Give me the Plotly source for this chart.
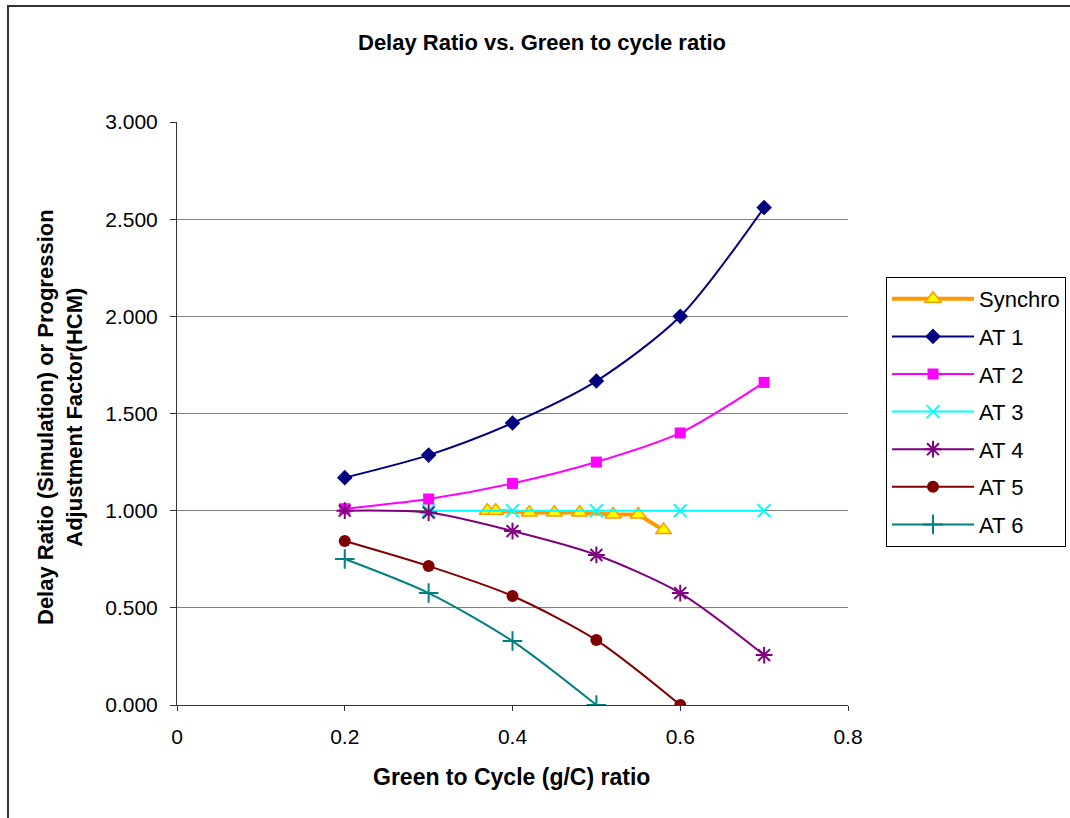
import plotly.graph_objects as go

# ---- data ----
gc = [0.2, 0.3, 0.4, 0.5, 0.6, 0.7]
synchro_x = [0.37, 0.38, 0.42, 0.45, 0.48, 0.52, 0.55, 0.58]
synchro_y = [1.00, 1.00, 0.99, 0.99, 0.99, 0.98, 0.98, 0.90]
at1 = [1.17, 1.286, 1.451, 1.667, 2.00, 2.56]
at2 = [1.01, 1.06, 1.14, 1.25, 1.40, 1.66]
at3_x = [0.3, 0.4, 0.5, 0.6, 0.7]
at3 = [1.0, 1.0, 1.0, 1.0, 1.0]
at4 = [1.0, 0.99, 0.895, 0.772, 0.576, 0.257]
at5_x = [0.2, 0.3, 0.4, 0.5, 0.6]
at5 = [0.844, 0.715, 0.561, 0.334, 0.0]
at6_x = [0.2, 0.3, 0.4, 0.5]
at6 = [0.751, 0.576, 0.329, 0.0]
y_ticks = [0, 0.5, 1.0, 1.5, 2.0, 2.5, 3.0]
x_ticks = [0, 0.2, 0.4, 0.6, 0.8]
x_tick_text = ["0", "0.2", "0.4", "0.6", "0.8"]

FONT = "Arial, Liberation Sans, sans-serif"

fig = go.Figure()

fig.add_trace(go.Scatter(
    x=synchro_x, y=synchro_y, name="Synchro", mode="lines+markers",
    line=dict(color="#FF9900", width=4),
    marker=dict(symbol="triangle-up", size=14, color="#FFFF00",
                line=dict(color="#FF9900", width=1.5)),
    legendgroup="g0"))

series = [
    ("AT 1", gc, at1, "#000080", "diamond", 12, 0),
    ("AT 2", gc, at2, "#FF00FF", "square", 11, 0),
    ("AT 3", at3_x, at3, "#00FFFF", "x-thin-open", 13, 2),
    ("AT 4", gc, at4, "#800080", "asterisk-open", 14, 2),
    ("AT 5", at5_x, at5, "#800000", "circle", 12, 0),
    ("AT 6", at6_x, at6, "#008080", "cross-thin-open", 14, 2),
]
for i, (name, xs, ys, col, sym, sz, lw) in enumerate(series):
    mk = dict(symbol=sym, size=sz, color=col)
    if lw:
        mk["line"] = dict(color=col, width=lw)
    fig.add_trace(go.Scatter(
        x=xs, y=ys, name=name, mode="lines+markers",
        line=dict(color=col, width=2, shape="spline", smoothing=0.8),
        marker=mk, legendgroup=f"g{i+1}"))

W, H = 1070, 818
L, R, T, B = 177, 848, 122, 705
pw, ph = R - L, B - T

def px(x):
    return (x - L) / pw

def py(y):
    return (B - y) / ph

fig.update_layout(
    width=W, height=H,
    margin=dict(l=L, r=W - R, t=T, b=H - B, pad=0, autoexpand=False),
    paper_bgcolor="white", plot_bgcolor="white",
    font=dict(family=FONT, size=21, color="black"),
    showlegend=True,
    legend=dict(xref="container", yref="container",
                x=886 / W, y=1 - 277 / H, xanchor="left", yanchor="top",
                bordercolor="black", borderwidth=1, bgcolor="white",
                font=dict(size=22, family=FONT), tracegroupgap=6,
                itemwidth=82),
    xaxis=dict(range=[0, 0.8], tickvals=x_ticks, ticktext=x_tick_text,
               showgrid=False, zeroline=False, showline=True, linecolor="#333333",
               linewidth=1, ticks="outside", ticklen=5, tickcolor="#333333",
               ticklabelstandoff=8,
               tickfont=dict(size=21, family=FONT)),
    yaxis=dict(range=[0, 3.0], tickvals=y_ticks, tickformat=".3f",
               showgrid=True, gridcolor="#808080", gridwidth=1, zeroline=False,
               showline=True, linecolor="#333333", linewidth=1,
               ticks="outside", ticklen=6, tickcolor="#333333",
               ticklabelstandoff=8,
               tickfont=dict(size=21, family=FONT)),
    annotations=[
        dict(text="<b>Delay Ratio vs. Green to cycle ratio</b>", xref="paper", yref="paper",
             x=px(542), y=py(43), showarrow=False, font=dict(size=22, family=FONT),
             xanchor="center", yanchor="middle"),
        dict(text="<b>Green to Cycle (g/C) ratio</b>", xref="paper", yref="paper",
             x=px(511), y=py(777), showarrow=False, font=dict(size=23, family=FONT),
             xanchor="center", yanchor="middle"),
        dict(text="<b>Delay Ratio (Simulation) or Progression<br>Adjustment Factor(HCM)</b>",
             xref="paper", yref="paper", x=px(60), y=py(417), showarrow=False,
             textangle=-90, font=dict(size=22, family=FONT),
             xanchor="center", yanchor="middle"),
    ],
    shapes=[
        dict(type="rect", xref="paper", yref="paper",
             x0=px(8), x1=px(1100), y0=py(850), y1=py(6),
             line=dict(color="#333333", width=2), fillcolor="rgba(0,0,0,0)", layer="below"),
    ],
)

fig.write_html("out.html")
